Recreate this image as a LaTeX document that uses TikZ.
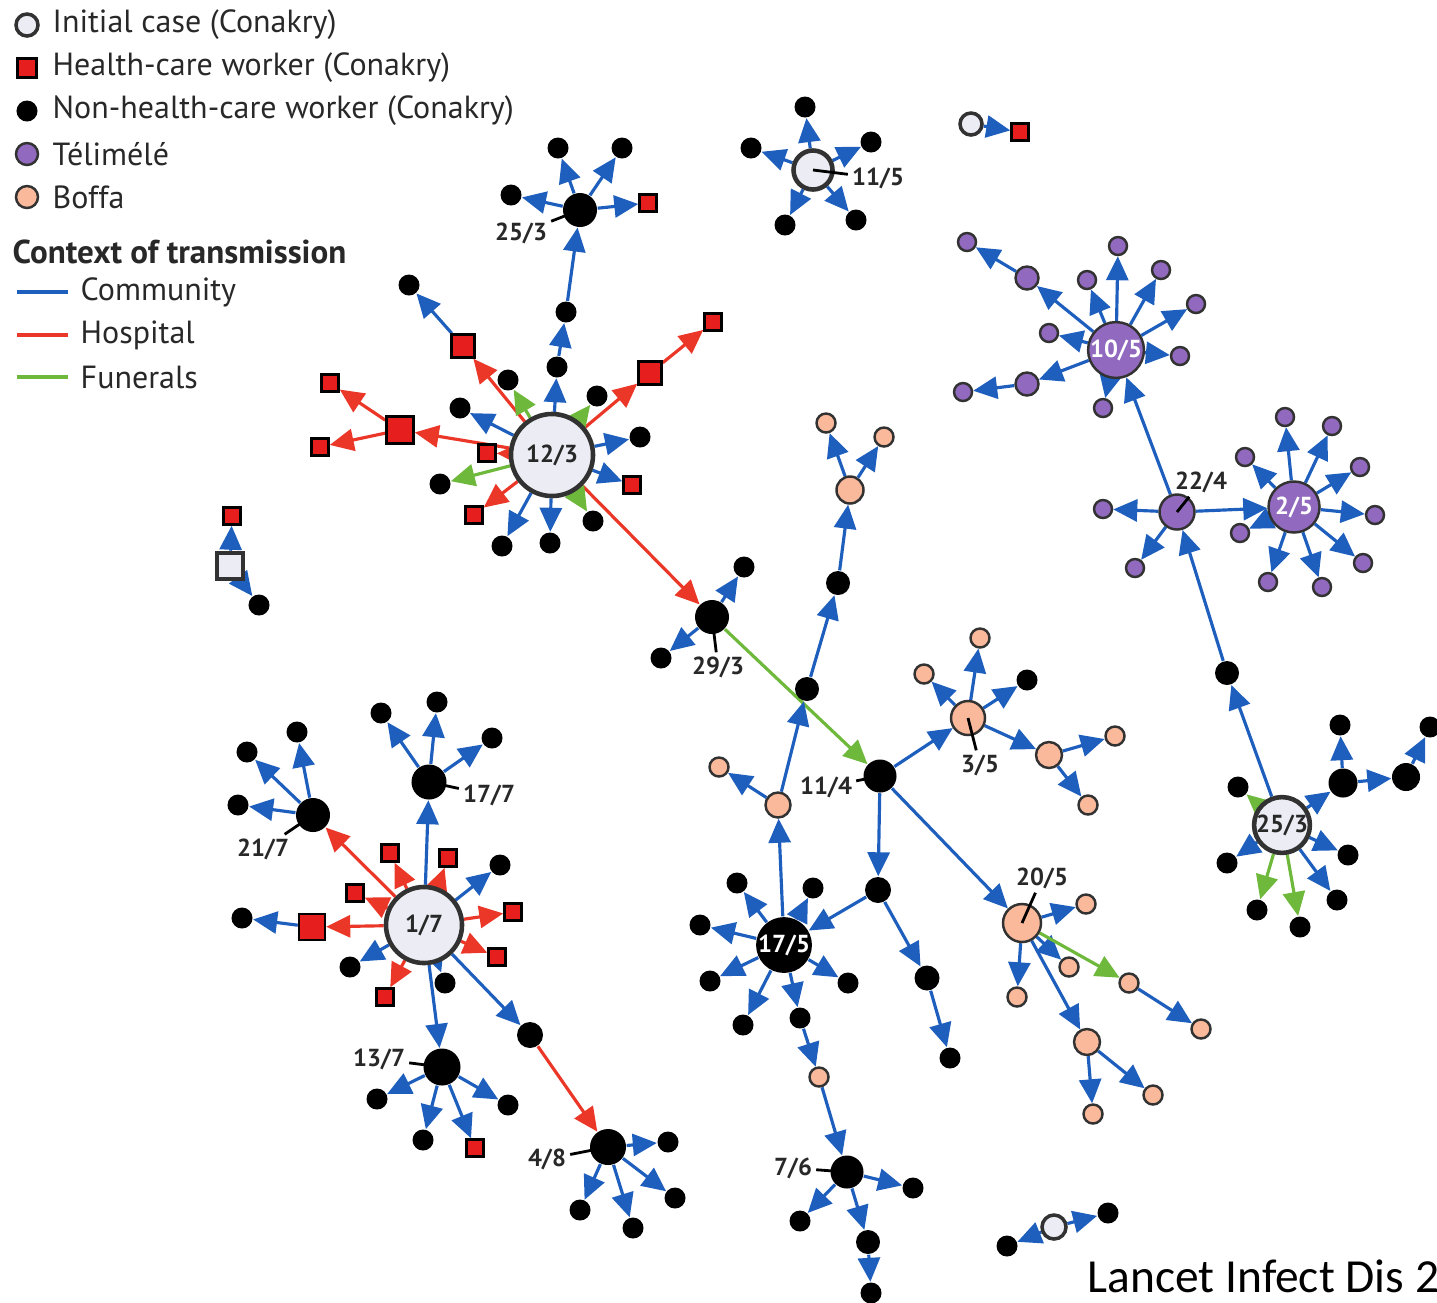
\documentclass[tikz,border=0pt]{standalone}
\usepackage{fontspec}
\setmainfont{PT Sans}
\newfontfamily\citefont{Carlito}
\usetikzlibrary{arrows.meta,positioning}
\pgfdeclarelayer{background}
\pgfsetlayers{background,main}
\definecolor{cblue}{RGB}{30,95,190}
\definecolor{cred}{RGB}{235,55,40}
\definecolor{cgreen}{RGB}{110,185,60}
\definecolor{cpurple}{RGB}{145,105,190}
\definecolor{cpeach}{RGB}{250,185,155}
\definecolor{cinit}{RGB}{236,236,244}
\definecolor{csq}{RGB}{230,30,30}
\definecolor{cring}{RGB}{50,50,50}
\definecolor{cdark}{RGB}{40,40,40}

\begin{document}
\begin{tikzpicture}[x=0.01cm,y=-0.01cm]

		\tikzset{line/.style={draw,line width=0.9pt}}
		\tikzset{comm/.style={line,cblue,-{Triangle[length=0.24cm,width=0.22cm]}}}
		\tikzset{hosp/.style={line,cred,-{Triangle[length=0.24cm,width=0.22cm]}}}
		\tikzset{fun/.style={line,cgreen,-{Triangle[length=0.24cm,width=0.22cm]}}}
		\tikzset{tick/.style={draw=black,line width=0.8pt}}
		\tikzset{node/.style={shape=circle,inner sep=0pt}}
		\tikzset{init/.style={node,draw=cring,line width=1.3pt,fill=cinit}}
		\tikzset{case/.style={node,fill=black,minimum size=0.21cm}}
		\tikzset{hcw/.style={shape=rectangle,inner sep=0pt,draw=black,line width=0.7pt,fill=csq,minimum size=0.17cm}}
		\tikzset{tel/.style={node,draw=cring,line width=0.7pt,fill=cpurple,minimum size=0.18cm}}
		\tikzset{bof/.style={node,draw=cring,line width=0.7pt,fill=cpeach,minimum size=0.19cm}}
		\tikzset{lab/.style={inner sep=1pt,font=\fontsize{7}{8}\selectfont\bfseries,text=cdark}}
		\tikzset{legtext/.style={anchor=west,inner sep=0pt,font=\fontsize{9.1}{10}\selectfont,text=cdark}}

		\useasboundingbox (0,0) rectangle (1437,1302);

		% Legend.
		\node[init,minimum size=0.22cm,line width=1pt] (leg1) at (27,25) {};
		\node[hcw,minimum size=0.19cm] (leg2) at (27,68) {};
		\node[case] (leg3) at (27,111) {};
		\node[tel,minimum size=0.22cm] (leg4) at (27,154) {};
		\node[bof,minimum size=0.22cm] (leg5) at (27,197) {};
		\node[legtext] (legt1) at (52,25) {Initial case (Conakry)};
		\node[legtext] (legt2) at (52,68) {Health-care worker (Conakry)};
		\node[legtext] (legt3) at (52,111) {Non-health-care worker (Conakry)};
		\node[legtext] (legt4) at (52,154) {Télimélé};
		\node[legtext] (legt5) at (52,197) {Boffa};
		\node[legtext,font=\fontsize{9.4}{10}\selectfont\bfseries] (legt6) at (12,252) {Context of transmission};
		\coordinate (lc1) at (17,292); \coordinate (lc2) at (68,292);
		\coordinate (lh1) at (17,335); \coordinate (lh2) at (68,335);
		\coordinate (lf1) at (17,377); \coordinate (lf2) at (68,377);
		\path[line,cblue] (lc1) -- (lc2);
		\path[line,cred] (lh1) -- (lh2);
		\path[line,cgreen] (lf1) -- (lf2);
		\node[legtext] (legt7) at (80,292) {Community};
		\node[legtext] (legt8) at (80,335) {Hospital};
		\node[legtext] (legt9) at (80,377) {Funerals};

		% Cluster 12/3.
		\node[init,minimum size=0.82cm,font=\fontsize{7}{8}\selectfont\bfseries,text=cdark] (p123) at (552,455) {12/3};
		\node[case] (a1) at (557,367) {};
		\node[case] (a2) at (566,312) {};
		\node[case,minimum size=0.34cm] (p253) at (580,210) {};
		\node[case] (a3) at (558,148) {};
		\node[case] (a4) at (622,148) {};
		\node[case] (a5) at (511,195) {};
		\node[hcw] (a6) at (648,203) {};
		\node[hcw,minimum size=0.23cm] (a7) at (463,346) {};
		\node[case] (a8) at (409,285) {};
		\node[case] (a9) at (508,380) {};
		\node[case] (a10) at (597,396) {};
		\node[case] (a11) at (460,408) {};
		\node[hcw,minimum size=0.27cm] (a12) at (400,430) {};
		\node[hcw] (a13) at (330,383) {};
		\node[hcw] (a14) at (320,447) {};
		\node[hcw] (a15) at (487,453) {};
		\node[case] (a16) at (440,484) {};
		\node[hcw] (a17) at (474,515) {};
		\node[case] (a18) at (502,546) {};
		\node[case] (a19) at (550,543) {};
		\node[case] (a20) at (593,521) {};
		\node[hcw] (a21) at (632,485) {};
		\node[case] (a22) at (640,437) {};
		\node[hcw,minimum size=0.23cm] (a23) at (650,373) {};
		\node[hcw] (a24) at (713,322) {};
		\node[lab] (l253) at (521,233) {25/3};

		% Cluster 29/3 and 11/4.
		\node[case,minimum size=0.34cm] (p293) at (712,617) {};
		\node[case] (b1) at (744,567) {};
		\node[case] (b2) at (661,658) {};
		\node[lab] (l293) at (718,667) {29/3};
		\node[case,minimum size=0.33cm] (p114) at (880,776) {};
		\node[lab] (l114) at (826,787) {11/4};
		\node[case,minimum size=0.26cm] (b3) at (878,890) {};
		\node[case,minimum size=0.25cm] (b4) at (927,978) {};
		\node[case] (b5) at (950,1058) {};
		\node[bof,minimum size=0.34cm] (p35) at (968,718) {};
		\node[lab] (l35) at (980,765) {3/5};
		\node[bof] (b6) at (924,674) {};
		\node[bof] (b7) at (980,638) {};
		\node[case] (b8) at (1027,680) {};
		\node[bof,minimum size=0.26cm] (b9) at (1049,755) {};
		\node[bof] (b10) at (1115,736) {};
		\node[bof] (b11) at (1088,805) {};
		\node[bof,minimum size=0.38cm] (p205) at (1022,923) {};
		\node[lab] (l205) at (1042,878) {20/5};
		\node[bof] (b12) at (1086,904) {};
		\node[bof] (b13) at (1069,967) {};
		\node[bof] (b14) at (1017,997) {};
		\node[bof] (b15) at (1129,983) {};
		\node[bof] (b16) at (1201,1029) {};
		\node[bof,minimum size=0.26cm] (b17) at (1087,1042) {};
		\node[bof] (b18) at (1093,1114) {};
		\node[bof] (b19) at (1153,1095) {};

		% Cluster 17/5.
		\node[case,minimum size=0.54cm,font=\fontsize{7}{8}\selectfont\bfseries,text=white] (p175) at (784,945) {17/5};
		\node[case] (c1) at (737,883) {};
		\node[case] (c2) at (813,888) {};
		\node[case] (c3) at (700,925) {};
		\node[case] (c4) at (710,981) {};
		\node[case] (c5) at (848,983) {};
		\node[case] (c6) at (743,1025) {};
		\node[case] (c7) at (800,1018) {};
		\node[bof] (c8) at (819,1077) {};
		\node[case,minimum size=0.33cm] (p76) at (847,1172) {};
		\node[lab] (l76) at (793,1168) {7/6};
		\node[case] (c9) at (913,1188) {};
		\node[case] (c10) at (800,1221) {};
		\node[case,minimum size=0.24cm] (c11) at (868,1242) {};
		\node[case] (c12) at (871,1293) {};
		\node[bof,minimum size=0.25cm] (c13) at (778,805) {};
		\node[bof] (c14) at (719,767) {};
		\node[case,minimum size=0.24cm] (c15) at (807,689) {};
		\node[case,minimum size=0.24cm] (c16) at (838,583) {};
		\node[bof,minimum size=0.27cm] (c17) at (850,490) {};
		\node[bof] (c18) at (826,423) {};
		\node[bof] (c19) at (884,437) {};

		% Cluster 11/5.
		\node[init,minimum size=0.39cm] (p115) at (813,170) {};
		\node[lab] (l115) at (878,178) {11/5};
		\node[case] (d1) at (805,107) {};
		\node[case] (d2) at (751,148) {};
		\node[case] (d3) at (871,142) {};
		\node[case] (d4) at (785,225) {};
		\node[case] (d5) at (856,220) {};
		\node[init,minimum size=0.22cm,line width=1pt] (d6) at (971,124) {};
		\node[hcw] (d7) at (1020,132) {};

		% Telimele.
		\node[tel,minimum size=0.5cm,font=\fontsize{7}{8}\selectfont\bfseries,text=white] (p105) at (1116,350) {10/5};
		\node[tel,minimum size=0.23cm] (e1) at (1027,278) {};
		\node[tel] (e2) at (967,242) {};
		\node[tel] (e3) at (1087,280) {};
		\node[tel] (e4) at (1118,246) {};
		\node[tel] (e5) at (1161,270) {};
		\node[tel] (e6) at (1196,304) {};
		\node[tel] (e7) at (1180,356) {};
		\node[tel] (e8) at (1049,333) {};
		\node[tel,minimum size=0.23cm] (e9) at (1027,384) {};
		\node[tel] (e10) at (963,392) {};
		\node[tel] (e11) at (1103,408) {};
		\node[tel,minimum size=0.35cm] (p224) at (1177,512) {};
		\node[lab] (l224) at (1201,482) {22/4};
		\node[tel] (e12) at (1103,509) {};
		\node[tel] (e13) at (1135,568) {};
		\node[tel,minimum size=0.51cm,font=\fontsize{7}{8}\selectfont\bfseries,text=white] (p25) at (1294,507) {2/5};
		\node[tel] (e14) at (1285,417) {};
		\node[tel] (e15) at (1332,426) {};
		\node[tel] (e16) at (1245,457) {};
		\node[tel] (e17) at (1360,467) {};
		\node[tel] (e18) at (1375,515) {};
		\node[tel] (e19) at (1363,563) {};
		\node[tel] (e20) at (1322,587) {};
		\node[tel] (e21) at (1268,582) {};
		\node[tel] (e22) at (1240,533) {};

		% Second 25/3.
		\node[init,minimum size=0.5cm,font=\fontsize{7}{8}\selectfont\bfseries,text=cdark] (q253) at (1282,825) {25/3};
		\node[case,minimum size=0.24cm] (f1) at (1227,673) {};
		\node[case] (f2) at (1238,787) {};
		\node[case,minimum size=0.29cm] (f3) at (1343,783) {};
		\node[case] (f4) at (1340,725) {};
		\node[case,minimum size=0.28cm] (f5) at (1406,777) {};
		\node[case] (f6) at (1430,727) {};
		\node[case] (f7) at (1348,855) {};
		\node[case] (f8) at (1337,900) {};
		\node[case] (f9) at (1300,927) {};
		\node[case] (f10) at (1257,910) {};
		\node[case] (f11) at (1227,863) {};

		% Cluster 1/7.
		\node[init,minimum size=0.76cm,font=\fontsize{7}{8}\selectfont\bfseries,text=cdark] (p17) at (424,925) {1/7};
		\node[case,minimum size=0.35cm] (p177) at (429,782) {};
		\node[lab] (l177) at (489,795) {17/7};
		\node[case] (g1) at (381,713) {};
		\node[case] (g2) at (437,702) {};
		\node[case] (g3) at (492,738) {};
		\node[case,minimum size=0.34cm] (p217) at (313,815) {};
		\node[lab] (l217) at (263,849) {21/7};
		\node[case] (g4) at (247,752) {};
		\node[case] (g5) at (297,732) {};
		\node[case] (g6) at (238,805) {};
		\node[hcw] (g7) at (390,853) {};
		\node[hcw] (g8) at (448,858) {};
		\node[case] (g9) at (500,865) {};
		\node[hcw] (g10) at (355,893) {};
		\node[hcw,minimum size=0.26cm] (g11) at (312,927) {};
		\node[case] (g12) at (242,918) {};
		\node[hcw] (g13) at (513,912) {};
		\node[hcw] (g14) at (497,957) {};
		\node[case] (g15) at (350,967) {};
		\node[hcw] (g16) at (385,997) {};
		\node[case] (g17) at (445,983) {};
		\node[case,minimum size=0.37cm] (p137) at (442,1067) {};
		\node[lab] (l137) at (379,1059) {13/7};
		\node[case] (g18) at (377,1099) {};
		\node[case] (g19) at (423,1140) {};
		\node[hcw] (g20) at (475,1148) {};
		\node[case] (g21) at (508,1105) {};
		\node[case,minimum size=0.26cm] (g22) at (530,1035) {};
		\node[case,minimum size=0.36cm] (p48) at (608,1147) {};
		\node[lab] (l48) at (547,1159) {4/8};
		\node[case] (g23) at (668,1142) {};
		\node[case] (g24) at (675,1198) {};
		\node[case] (g25) at (633,1228) {};
		\node[case] (g26) at (580,1210) {};

		% Small chains.
		\node[init,shape=rectangle,minimum size=0.26cm] (h1) at (230,566) {};
		\node[hcw] (h2) at (232,516) {};
		\node[case] (h3) at (259,605) {};
		\node[init,minimum size=0.24cm,line width=1pt] (h4) at (1054,1227) {};
		\node[case] (h5) at (1007,1246) {};
		\node[case] (h6) at (1108,1213) {};

		\node[anchor=west,inner sep=0pt,font=\citefont\fontsize{13.5}{15}\selectfont] (cite) at (1087,1276) {Lancet Infect Dis 2};

		\begin{pgfonlayer}{background}
			\path[comm] (p123) edge (a1) edge (a11) edge (a18) edge (a19) edge (a21) edge (a22);
			\path[hosp] (p123) edge (a7) edge (a12) edge (a15) edge (a17) edge (a23) edge (p293);
			\path[fun] (p123) edge (a9) edge (a10) edge (a16) edge (a20);
			\path[comm] (a1) to (a2);
			\path[comm] (a2) to (p253);
			\path[comm] (p253) edge (a3) edge (a4) edge (a5) edge (a6);
			\path[comm] (a7) to (a8);
			\path[hosp] (a12) edge (a13) edge (a14);
			\path[hosp] (a23) to (a24);

			\path[comm] (p293) edge (b1) edge (b2);
			\path[fun] (p293) to (p114);
			\path[comm] (p114) edge (b3) edge (p35) edge (p205);
			\path[comm] (b3) edge (p175) edge (b4);
			\path[comm] (b4) to (b5);
			\path[comm] (p35) edge (b6) edge (b7) edge (b8) edge (b9);
			\path[comm] (b9) edge (b10) edge (b11);
			\path[comm] (p205) edge (b12) edge (b13) edge (b14) edge (b17);
			\path[fun] (p205) to (b15);
			\path[comm] (b15) to (b16);
			\path[comm] (b17) edge (b18) edge (b19);

			\path[comm] (p175) edge (c1) edge (c2) edge (c3) edge (c4) edge (c5) edge (c6) edge (c7) edge (c13);
			\path[comm] (c7) to (c8);
			\path[comm] (c8) to (p76);
			\path[comm] (p76) edge (c9) edge (c10) edge (c11);
			\path[comm] (c11) to (c12);
			\path[comm] (c13) edge (c14) edge (c15);
			\path[comm] (c15) to (c16);
			\path[comm] (c16) to (c17);
			\path[comm] (c17) edge (c18) edge (c19);

			\path[comm] (p115) edge (d1) edge (d2) edge (d3) edge (d4) edge (d5);
			\path[comm] (d6) to (d7);

			\path[comm] (p105) edge (e1) edge (e3) edge (e4) edge (e5) edge (e6) edge (e7) edge (e8) edge (e9) edge (e11);
			\path[comm] (e1) to (e2);
			\path[comm] (e9) to (e10);
			\path[comm] (p224) edge (p105) edge (e12) edge (e13) edge (p25);
			\path[comm] (p25) edge (e14) edge (e15) edge (e16) edge (e17) edge (e18) edge (e19) edge (e20) edge (e21) edge (e22);

			\path[comm] (q253) edge (f1) edge (f3) edge (f7) edge (f8) edge (f11);
			\path[fun] (q253) edge (f2) edge (f9) edge (f10);
			\path[comm] (f1) to (p224);
			\path[comm] (f3) edge (f4) edge (f5);
			\path[comm] (f5) to (f6);

			\path[comm] (p17) edge (p177) edge (g9) edge (g15) edge (g17) edge (p137) edge (g22);
			\path[hosp] (p17) edge (p217) edge (g7) edge (g8) edge (g10) edge (g11) edge (g13) edge (g14) edge (g16);
			\path[comm] (p177) edge (g1) edge (g2) edge (g3);
			\path[comm] (p217) edge (g4) edge (g5) edge (g6);
			\path[comm] (g11) to (g12);
			\path[comm] (p137) edge (g18) edge (g19) edge (g20) edge (g21);
			\path[hosp] (g22) to (p48);
			\path[comm] (p48) edge (g23) edge (g24) edge (g25) edge (g26);

			\path[comm] (h1) edge (h2) edge (h3);
			\path[comm] (h4) edge (h5) edge (h6);
		\end{pgfonlayer}

		% Date ticks.
		\path[tick] (l253) to (p253.center);
		\path[tick] (l293) to (p293.center);
		\path[tick] (l114) to (p114.center);
		\path[tick] (l35) to (p35.center);
		\path[tick] (l205) to (p205.center);
		\path[tick] (l76) to (p76.center);
		\path[tick] (l115) to (p115.center);
		\path[tick] (l224) to (p224.center);
		\path[tick] (l177) to (p177.center);
		\path[tick] (l217) to (p217.center);
		\path[tick] (l137) to (p137.center);
		\path[tick] (l48) to (p48.center);

	\end{tikzpicture}
\end{document}
